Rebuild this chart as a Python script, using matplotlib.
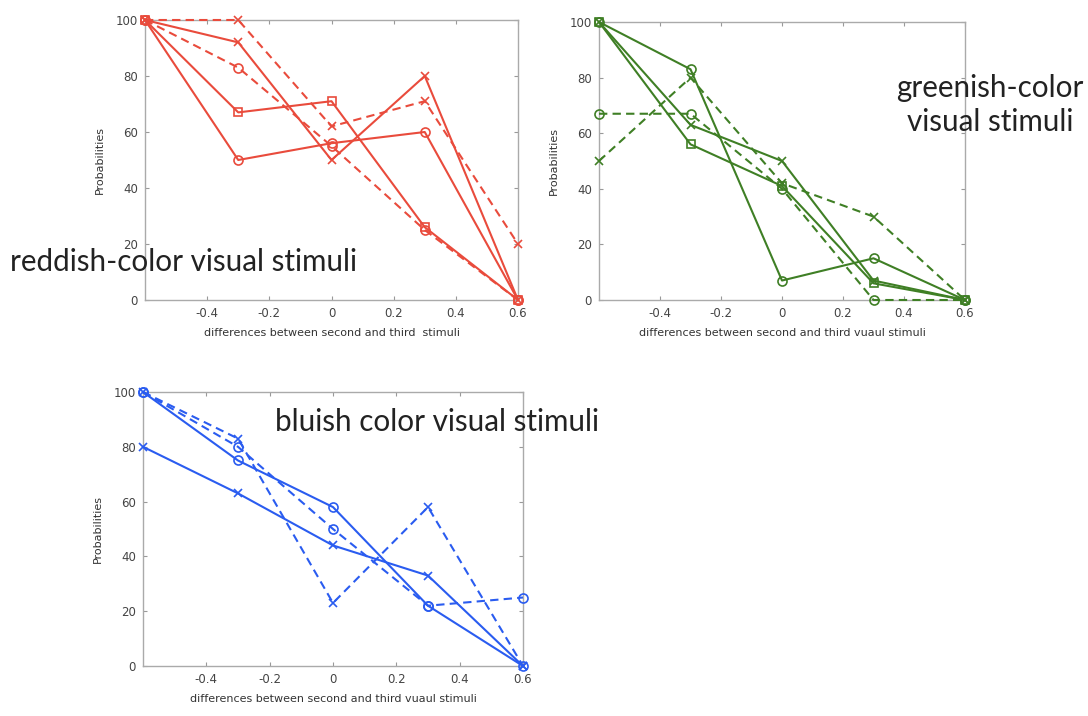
import matplotlib
matplotlib.use("Agg")
import matplotlib.pyplot as plt

# x positions: difference between second and third stimuli
x = [-0.6, -0.3, 0.0, 0.3, 0.6]

# reddish-color stimuli
red_dash_x = [100, 100, 62, 71, 20]
red_dash_o = [100, 83, 55, 25, 0]
red_solid_x = [100, 92, 50, 80, 0]
red_solid_s = [100, 67, 71, 26, 0]
red_solid_o = [100, 50, 56, 60, 0]

# greenish-color stimuli
green_solid_o = [100, 83, 7, 15, 0]
green_dash_o = [67, 67, 40, 0, 0]
green_dash_x = [50, 80, 42, 30, 0]
green_solid_x = [100, 63, 50, 7, 0]
green_solid_s = [100, 56, 41, 6, 0]

# bluish-color stimuli
blue_solid_x = [80, 63, 44, 33, 0]
blue_solid_o = [100, 75, 58, 22, 0]
blue_dash_o = [100, 80, 50, 22, 25]
blue_dash_x = [100, 83, 23, 58, 0]

xticks = [-0.4, -0.2, 0, 0.2, 0.4, 0.6]
yticks = [0, 20, 40, 60, 80, 100]

RED = "#e94b3c"
GREEN = "#3f7f25"
BLUE = "#2a5cf0"

W, H = 1088, 716
fig = plt.figure(figsize=(W / 100, H / 100), dpi=100)


def make_axes(l, r, t, b, xlabel):
    ax = fig.add_axes([l / W, 1 - b / H, (r - l) / W, (b - t) / H])
    ax.set_xlim(-0.6, 0.6)
    ax.set_ylim(0, 100)
    ax.set_xticks(xticks)
    ax.set_xticklabels(["-0.4", "-0.2", "0", "0.2", "0.4", "0.6"])
    ax.set_yticks(yticks)
    ax.tick_params(direction="in", top=True, right=True, length=3,
                   labelsize=8.5, colors="#999999", labelcolor="#444444", pad=5)
    for s in ax.spines.values():
        s.set_color("#aaaaaa")
        s.set_linewidth(1.0)
    ax.set_xlabel(xlabel, fontsize=8, color="#333333", labelpad=6)
    ax.set_ylabel("Probabilities", fontsize=8, color="#333333", labelpad=8)
    return ax


def draw(ax, y, color, ls, marker):
    ms = 6.5 if marker == "o" else 5.5
    ax.plot(x, y, color=color, linestyle=ls, marker=marker, markersize=ms,
            markerfacecolor="none", markeredgewidth=1.2, linewidth=1.5,
            dashes=(4, 2.5) if ls == "--" else (None, None),
            clip_on=False, zorder=3)


ax1 = make_axes(145, 518, 20, 300, "differences between second and third  stimuli")
draw(ax1, red_dash_x, RED, "--", "x")
draw(ax1, red_dash_o, RED, "--", "o")
draw(ax1, red_solid_x, RED, "-", "x")
draw(ax1, red_solid_s, RED, "-", "s")
draw(ax1, red_solid_o, RED, "-", "o")

ax2 = make_axes(599, 965, 22, 300, "differences between second and third vuaul stimuli")
draw(ax2, green_solid_o, GREEN, "-", "o")
draw(ax2, green_dash_o, GREEN, "--", "o")
draw(ax2, green_dash_x, GREEN, "--", "x")
draw(ax2, green_solid_x, GREEN, "-", "x")
draw(ax2, green_solid_s, GREEN, "-", "s")

ax3 = make_axes(143, 523, 392, 666, "differences between second and third vuaul stimuli")
draw(ax3, blue_solid_x, BLUE, "-", "x")
draw(ax3, blue_solid_o, BLUE, "-", "o")
draw(ax3, blue_dash_o, BLUE, "--", "o")
draw(ax3, blue_dash_x, BLUE, "--", "x")

# annotations
font = dict(family="Lato", fontsize=21.3, color="#222222")
fig.text(10 / W, 1 - 262 / H, "reddish-color visual stimuli", ha="left", va="center", **font)
fig.text(990 / W, 1 - 105 / H, "greenish-color\nvisual stimuli", ha="center", va="center",
         linespacing=1.25, **font)
fig.text(275 / W, 1 - 422 / H, "bluish color visual stimuli", ha="left", va="center", **font)

fig.savefig("out.png", dpi=100)
